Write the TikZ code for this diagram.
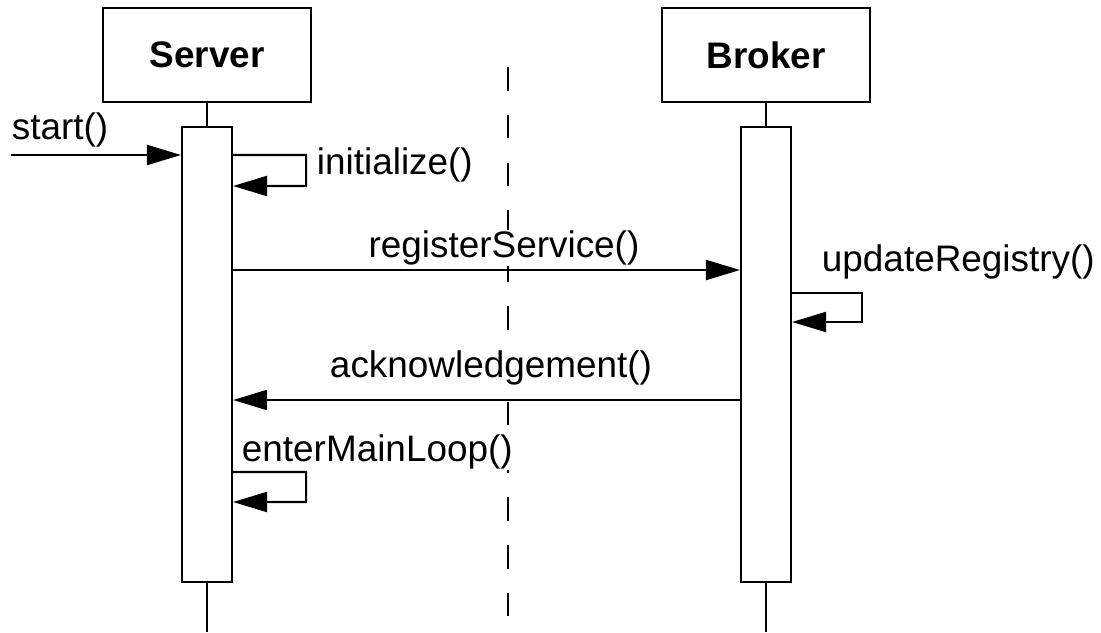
\documentclass[tikz,border=0pt]{standalone}
\usepackage{fontspec}
\setmainfont{Liberation Sans}
\usetikzlibrary{arrows.meta}
\usetikzlibrary{positioning}
\usetikzlibrary{calc}

\begin{document}
\begin{tikzpicture}[line width=1.2pt,
    font=\fontsize{21}{25}\selectfont,
    obj/.style={draw, minimum width=4.16cm, minimum height=1.88cm, font=\fontsize{21}{25}\selectfont\bfseries},
    act/.style={draw, fill=white, minimum width=1cm, minimum height=9.1cm},
    msg/.style={-{Triangle[length=0.68cm,width=0.4cm]}},
    lbl/.style={fill=white, inner sep=0.5pt}]
    \useasboundingbox (0,0) rectangle (22.02,-12.64);
    \def \SrvX {4.14};
    \def \BrkX {15.32};
    \def \LoopW {1.46};

    % separator between the two sides
    \draw [dash pattern=on 0.47cm off 0.486cm] (10.16,-1.34) -- (10.16,-12.34);

    % objects and their lifelines
    \node[obj] (srv) at (\SrvX,-1.1) {Server};
    \node[obj] (brk) at (\BrkX,-1.1) {Broker};
    \coordinate (srvend) at (\SrvX,-12.64);
    \coordinate (brkend) at (\BrkX,-12.64);
    \node[act] (srvbar) at (\SrvX,-7.09) {};
    \node[act] (brkbar) at (\BrkX,-7.09) {};
    \draw (srv.south) -- (srvbar.north);
    \draw (srvbar.south) -- (srvend);
    \draw (brk.south) -- (brkbar.north);
    \draw (brkbar.south) -- (brkend);

    % message labels (white, so the separator breaks under them)
    \node[lbl, anchor=west] (startlbl) at (0.2,-2.6) {start()};
    \node[lbl, anchor=west] (initlbl) at (6.3,-3.3) {initialize()};
    \node[lbl] (reglbl) at (10.08,-4.96) {registerService()};
    \node[lbl, anchor=west] (updlbl) at (16.4,-5.24) {updateRegistry()};
    \node[lbl] (acklbl) at (9.82,-7.36) {acknowledgement()};
    \node[lbl, anchor=west] (looplbl) at (4.8,-9.04) {enterMainLoop()};

    % start()
    \coordinate (caller) at (0.22,-3.1);
    \draw [msg] (caller) -- (caller -| srvbar.west);

    % initialize()
    \draw [msg] (srvbar.east |- 0,-3.1) -- ++(\LoopW,0) -- ++(0,-0.62) -- (srvbar.east |- 0,-3.72);

    % registerService()
    \draw [msg] (srvbar.east |- 0,-5.4) -- (brkbar.west |- 0,-5.4);

    % updateRegistry()
    \draw [msg] (brkbar.east |- 0,-5.86) -- ++(1.4,0) -- ++(0,-0.58) -- (brkbar.east |- 0,-6.44);

    % acknowledgement()
    \draw [msg] (brkbar.west |- 0,-8.0) -- (srvbar.east |- 0,-8.0);

    % enterMainLoop()
    \draw [msg] (srvbar.east |- 0,-9.44) -- ++(\LoopW,0) -- ++(0,-0.6) -- (srvbar.east |- 0,-10.04);
\end{tikzpicture}
\end{document}
